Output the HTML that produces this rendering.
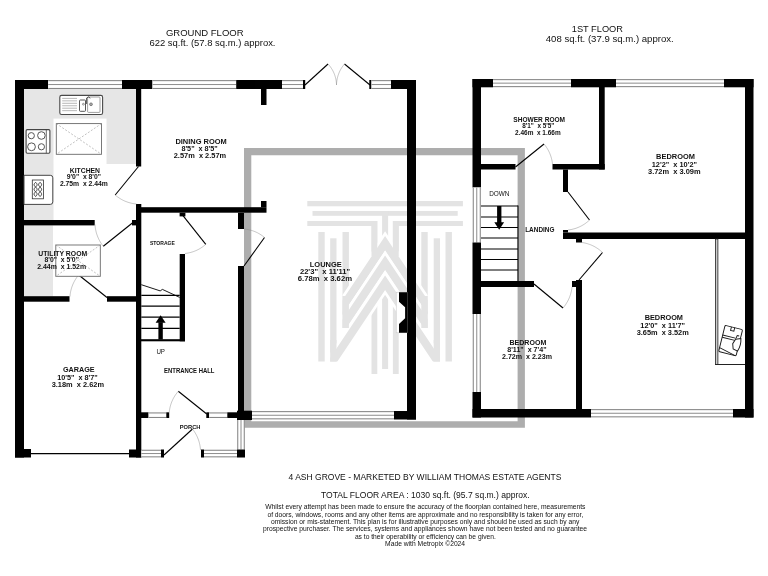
<!DOCTYPE html>
<html><head><meta charset="utf-8"><title>Floorplan</title>
<style>
html,body{margin:0;padding:0;background:#fff;}
body{width:768px;height:576px;overflow:hidden;}
svg{display:block;font-family:"Liberation Sans",sans-serif;opacity:0.999;will-change:transform;}
</style></head><body>
<svg width="768" height="576" viewBox="0 0 768 576">
<rect width="768" height="576" fill="#fff"/>
<path d="M244 148H524.9V427.8H244Z M251.3 155.2V421.2H517.6V155.2Z" fill="#adadad" fill-rule="evenodd"/>
<g id="logo">
<clipPath id="cC"><rect x="342.5" y="190" width="85.20" height="138"/></clipPath>
<clipPath id="cB"><rect x="330.2" y="190" width="109.80" height="171.5"/></clipPath>
<rect x="307.30" y="201.00" width="155.60" height="5.30" fill="#e3e3e3" />
<rect x="312.50" y="211.00" width="145.20" height="4.80" fill="#e3e3e3" />
<rect x="307.30" y="221.00" width="69.10" height="5.00" fill="#e3e3e3" />
<rect x="393.80" y="221.00" width="69.10" height="5.00" fill="#e3e3e3" />
<rect x="318.30" y="232.00" width="6.40" height="129.50" fill="#e3e3e3" />
<rect x="445.50" y="232.00" width="6.40" height="129.50" fill="#e3e3e3" />
<rect x="330.20" y="238.30" width="6.30" height="123.20" fill="#e3e3e3" />
<rect x="433.70" y="238.30" width="6.30" height="123.20" fill="#e3e3e3" />
<rect x="342.50" y="232.00" width="6.40" height="96.00" fill="#e3e3e3" />
<rect x="421.30" y="232.00" width="6.40" height="96.00" fill="#e3e3e3" />
<rect x="371.50" y="221.00" width="5.80" height="153.00" fill="#e3e3e3" />
<rect x="392.90" y="221.00" width="5.80" height="153.00" fill="#e3e3e3" />
<rect x="382.10" y="211.00" width="6.00" height="158.00" fill="#e3e3e3" />
<polyline clip-path="url(#cC)" points="340.50,310.20 385.10,243.30 429.70,310.20" fill="none" stroke="#fff" stroke-width="13.4" stroke-linejoin="miter" stroke-miterlimit="10"/>
<rect x="371.50" y="221.00" width="5.80" height="35.00" fill="#e3e3e3" />
<rect x="392.90" y="221.00" width="5.80" height="35.00" fill="#e3e3e3" />
<polyline clip-path="url(#cC)" points="337.70,314.40 385.10,243.30 432.50,314.40" fill="none" stroke="#e3e3e3" stroke-width="8.0" stroke-linejoin="miter" stroke-miterlimit="10"/>
<polyline clip-path="url(#cC)" points="340.50,329.60 385.10,262.70 429.70,329.60" fill="none" stroke="#fff" stroke-width="13.4" stroke-linejoin="miter" stroke-miterlimit="10"/>
<polyline clip-path="url(#cC)" points="337.70,333.80 385.10,262.70 432.50,333.80" fill="none" stroke="#e3e3e3" stroke-width="8.0" stroke-linejoin="miter" stroke-miterlimit="10"/>
<polyline clip-path="url(#cB)" points="328.00,368.35 385.10,282.70 442.20,368.35" fill="none" stroke="#fff" stroke-width="13.4" stroke-linejoin="miter" stroke-miterlimit="10"/>
<polyline clip-path="url(#cB)" points="325.40,372.25 385.10,282.70 444.80,372.25" fill="none" stroke="#e3e3e3" stroke-width="8.0" stroke-linejoin="miter" stroke-miterlimit="10"/>
<rect x="342.50" y="296.00" width="6.40" height="32.00" fill="#e3e3e3" />
<rect x="421.30" y="296.00" width="6.40" height="32.00" fill="#e3e3e3" />
<rect x="330.20" y="340.00" width="6.30" height="21.50" fill="#e3e3e3" />
<rect x="433.70" y="340.00" width="6.30" height="21.50" fill="#e3e3e3" />
</g>
<rect x="24.00" y="89.00" width="112.00" height="75.00" fill="#e6e6e6" />
<rect x="24.00" y="164.00" width="29.50" height="56.00" fill="#e6e6e6" />
<rect x="53.50" y="118.60" width="53.00" height="45.40" fill="#fff" />
<rect x="24.00" y="225.40" width="29.00" height="70.80" fill="#e6e6e6" />
<rect x="15.00" y="80.00" width="9.00" height="377.50" fill="#000" />
<rect x="15.00" y="80.00" width="33.20" height="9.00" fill="#000" />
<rect x="48.20" y="80.20" width="73.80" height="8.70" fill="#fff" />
<line x1="48.20" y1="80.65" x2="122.00" y2="80.65" stroke="#707070" stroke-width="0.9" />
<line x1="48.20" y1="88.45" x2="122.00" y2="88.45" stroke="#707070" stroke-width="0.9" />
<line x1="48.20" y1="84.55" x2="122.00" y2="84.55" stroke="#8c8c8c" stroke-width="1.0" />
<rect x="122.00" y="80.00" width="30.50" height="9.00" fill="#000" />
<rect x="152.50" y="80.20" width="83.70" height="8.70" fill="#fff" />
<line x1="152.50" y1="80.65" x2="236.20" y2="80.65" stroke="#707070" stroke-width="0.9" />
<line x1="152.50" y1="88.45" x2="236.20" y2="88.45" stroke="#707070" stroke-width="0.9" />
<line x1="152.50" y1="84.55" x2="236.20" y2="84.55" stroke="#8c8c8c" stroke-width="1.0" />
<rect x="236.20" y="80.00" width="45.80" height="9.00" fill="#000" />
<rect x="282.00" y="80.20" width="21.00" height="8.70" fill="#fff" />
<line x1="282.00" y1="80.65" x2="303.00" y2="80.65" stroke="#707070" stroke-width="0.9" />
<line x1="282.00" y1="88.45" x2="303.00" y2="88.45" stroke="#707070" stroke-width="0.9" />
<line x1="282.00" y1="84.55" x2="303.00" y2="84.55" stroke="#8c8c8c" stroke-width="1.0" />
<rect x="303.00" y="80.00" width="2.20" height="9.00" fill="#000" />
<rect x="369.30" y="80.00" width="2.20" height="9.00" fill="#000" />
<rect x="371.50" y="80.20" width="19.50" height="8.70" fill="#fff" />
<line x1="371.50" y1="80.65" x2="391.00" y2="80.65" stroke="#707070" stroke-width="0.9" />
<line x1="371.50" y1="88.45" x2="391.00" y2="88.45" stroke="#707070" stroke-width="0.9" />
<line x1="371.50" y1="84.55" x2="391.00" y2="84.55" stroke="#8c8c8c" stroke-width="1.0" />
<rect x="391.00" y="80.00" width="25.00" height="9.00" fill="#000" />
<rect x="407.00" y="80.00" width="9.00" height="339.50" fill="#000" />
<rect x="252.00" y="411.20" width="142.00" height="8.10" fill="#fff" />
<line x1="252.00" y1="411.65" x2="394.00" y2="411.65" stroke="#707070" stroke-width="0.9" />
<line x1="252.00" y1="418.85" x2="394.00" y2="418.85" stroke="#707070" stroke-width="0.9" />
<line x1="252.00" y1="415.25" x2="394.00" y2="415.25" stroke="#8c8c8c" stroke-width="1.0" />
<rect x="394.00" y="411.00" width="22.00" height="8.50" fill="#000" />
<rect x="136.00" y="89.00" width="5.20" height="77.50" fill="#000" />
<rect x="261.00" y="89.00" width="5.50" height="16.00" fill="#000" />
<rect x="24.00" y="220.00" width="70.70" height="5.40" fill="#000" />
<rect x="24.00" y="296.20" width="45.50" height="5.50" fill="#000" />
<rect x="107.00" y="296.20" width="29.00" height="5.50" fill="#000" />
<rect x="136.00" y="204.00" width="5.30" height="253.50" fill="#000" />
<rect x="132.00" y="220.00" width="4.00" height="5.40" fill="#000" />
<rect x="141.00" y="207.20" width="125.50" height="5.50" fill="#000" />
<rect x="261.00" y="201.00" width="5.50" height="6.20" fill="#000" />
<rect x="238.00" y="212.70" width="6.00" height="16.30" fill="#000" />
<rect x="238.00" y="266.00" width="6.00" height="154.00" fill="#000" />
<rect x="179.60" y="212.70" width="5.80" height="3.70" fill="#000" />
<rect x="179.70" y="254.00" width="5.30" height="87.30" fill="#000" />
<rect x="141.00" y="339.20" width="44.00" height="2.10" fill="#000" />
<rect x="141.00" y="412.30" width="7.60" height="5.70" fill="#000" />
<rect x="148.60" y="412.50" width="17.70" height="5.40" fill="#fff" />
<line x1="148.60" y1="412.95" x2="166.30" y2="412.95" stroke="#707070" stroke-width="0.9" />
<line x1="148.60" y1="417.45" x2="166.30" y2="417.45" stroke="#707070" stroke-width="0.9" />
<rect x="166.30" y="412.30" width="2.90" height="5.70" fill="#000" />
<rect x="206.30" y="412.30" width="2.90" height="5.70" fill="#000" />
<rect x="209.20" y="412.50" width="18.10" height="5.40" fill="#fff" />
<line x1="209.20" y1="412.95" x2="227.30" y2="412.95" stroke="#707070" stroke-width="0.9" />
<line x1="209.20" y1="417.45" x2="227.30" y2="417.45" stroke="#707070" stroke-width="0.9" />
<rect x="227.30" y="412.30" width="10.70" height="5.70" fill="#000" />
<rect x="237.00" y="410.70" width="15.00" height="9.30" fill="#000" />
<rect x="237.30" y="420.00" width="7.40" height="29.50" fill="#fff" />
<line x1="237.75" y1="420.00" x2="237.75" y2="449.50" stroke="#707070" stroke-width="0.9" />
<line x1="244.25" y1="420.00" x2="244.25" y2="449.50" stroke="#707070" stroke-width="0.9" />
<line x1="241.00" y1="420.00" x2="241.00" y2="449.50" stroke="#8c8c8c" stroke-width="1.0" />
<rect x="129.00" y="449.50" width="12.30" height="8.00" fill="#000" />
<rect x="141.30" y="449.80" width="19.70" height="7.50" fill="#fff" />
<line x1="141.30" y1="450.25" x2="161.00" y2="450.25" stroke="#707070" stroke-width="0.9" />
<line x1="141.30" y1="456.85" x2="161.00" y2="456.85" stroke="#707070" stroke-width="0.9" />
<line x1="141.30" y1="453.55" x2="161.00" y2="453.55" stroke="#8c8c8c" stroke-width="1.0" />
<rect x="161.00" y="449.50" width="3.00" height="8.00" fill="#000" />
<rect x="201.00" y="449.50" width="3.00" height="8.00" fill="#000" />
<rect x="204.00" y="449.80" width="33.00" height="7.50" fill="#fff" />
<line x1="204.00" y1="450.25" x2="237.00" y2="450.25" stroke="#707070" stroke-width="0.9" />
<line x1="204.00" y1="456.85" x2="237.00" y2="456.85" stroke="#707070" stroke-width="0.9" />
<line x1="204.00" y1="453.55" x2="237.00" y2="453.55" stroke="#8c8c8c" stroke-width="1.0" />
<rect x="237.00" y="449.50" width="8.00" height="8.00" fill="#000" />
<rect x="15.00" y="449.00" width="16.00" height="8.50" fill="#000" />
<line x1="31.00" y1="453.70" x2="129.00" y2="453.70" stroke="#000" stroke-width="1.2" />
<rect x="396.2" y="292.2" width="10.8" height="40.6" fill="#fff" stroke="#c4c4c4" stroke-width="0.5"/>
<polygon points="407,292.2 399,292.2 399,301.7 405.1,307.2 405.1,318.3 399,323.9 399,332.8 407,332.8" fill="#000"/>
<line x1="141.30" y1="295.30" x2="179.70" y2="295.30" stroke="#000" stroke-width="1.2" />
<line x1="141.30" y1="306.20" x2="179.70" y2="306.20" stroke="#000" stroke-width="1.2" />
<line x1="141.30" y1="317.20" x2="179.70" y2="317.20" stroke="#000" stroke-width="1.2" />
<line x1="141.30" y1="328.30" x2="179.70" y2="328.30" stroke="#000" stroke-width="1.2" />
<polyline points="141.3,284.7 160.2,290.9 162.4,289.4 179.7,297.4" fill="none" stroke="#000" stroke-width="0.9"/>
<rect x="158.40" y="322.30" width="4.40" height="17.20" fill="#000" />
<polygon points="160.6,315.2 155.6,322.8 165.6,322.8" fill="#000"/>
<line x1="138.50" y1="166.50" x2="115.20" y2="195.00" stroke="#000" stroke-width="1.1" />
<polyline points="115.20,195.00 115.94,195.63 116.70,196.24 117.48,196.83 118.27,197.40 119.08,197.95 119.90,198.48 120.74,198.99 121.59,199.48 122.46,199.94 123.33,200.38 124.22,200.80 125.12,201.19 126.04,201.56 126.96,201.91 127.89,202.23 128.83,202.53 129.78,202.80 130.74,203.05 131.70,203.27 132.67,203.47 133.65,203.64 134.63,203.79 135.61,203.91 136.60,204.00" fill="none" stroke="#8a8a8a" stroke-width="0.5"/>
<line x1="133.00" y1="222.50" x2="103.30" y2="246.30" stroke="#000" stroke-width="1.1" />
<polyline points="103.30,246.30 102.69,245.52 102.11,244.73 101.54,243.92 100.99,243.09 100.47,242.26 99.97,241.40 99.49,240.54 99.03,239.66 98.60,238.78 98.19,237.88 97.80,236.97 97.44,236.05 97.10,235.12 96.78,234.19 96.49,233.24 96.23,232.29 95.99,231.33 95.77,230.37 95.58,229.40 95.41,228.43 95.27,227.45 95.15,226.47 95.06,225.49 95.00,224.50" fill="none" stroke="#8a8a8a" stroke-width="0.5"/>
<line x1="107.00" y1="297.50" x2="78.70" y2="275.00" stroke="#000" stroke-width="1.1" />
<polyline points="78.70,275.00 78.08,275.75 77.47,276.51 76.89,277.29 76.33,278.09 75.79,278.90 75.27,279.73 74.77,280.57 74.30,281.43 73.84,282.30 73.41,283.18 73.01,284.07 72.63,284.98 72.27,285.89 71.93,286.82 71.63,287.76 71.34,288.70 71.08,289.65 70.85,290.62 70.64,291.58 70.46,292.56 70.31,293.54 70.18,294.52 70.08,295.51 70.00,296.50" fill="none" stroke="#8a8a8a" stroke-width="0.5"/>
<line x1="183.00" y1="215.70" x2="205.80" y2="244.30" stroke="#000" stroke-width="1.1" />
<polyline points="205.80,244.30 205.09,244.92 204.35,245.53 203.61,246.11 202.84,246.68 202.06,247.23 201.27,247.76 200.46,248.26 199.64,248.75 198.80,249.22 197.95,249.66 197.09,250.09 196.21,250.49 195.33,250.87 194.43,251.23 193.52,251.56 192.61,251.87 191.68,252.16 190.75,252.43 189.81,252.67 188.86,252.88 187.90,253.07 186.94,253.24 185.97,253.38 185.00,253.50" fill="none" stroke="#8a8a8a" stroke-width="0.5"/>
<line x1="244.00" y1="266.00" x2="264.50" y2="237.50" stroke="#000" stroke-width="1.1" />
<polyline points="264.50,237.50 263.80,236.91 263.08,236.34 262.34,235.79 261.59,235.25 260.82,234.74 260.04,234.24 259.24,233.76 258.43,233.31 257.61,232.87 256.77,232.45 255.92,232.06 255.06,231.68 254.19,231.33 253.30,231.00 252.41,230.70 251.51,230.41 250.59,230.15 249.67,229.92 248.74,229.70 247.81,229.51 246.86,229.35 245.91,229.21 244.96,229.09 244.00,229.00" fill="none" stroke="#8a8a8a" stroke-width="0.5"/>
<line x1="206.70" y1="414.00" x2="178.30" y2="391.30" stroke="#000" stroke-width="1.1" />
<polyline points="178.30,391.30 177.67,392.03 177.06,392.78 176.47,393.54 175.90,394.32 175.35,395.11 174.82,395.93 174.31,396.75 173.82,397.59 173.35,398.45 172.91,399.31 172.49,400.19 172.09,401.08 171.71,401.99 171.36,402.90 171.03,403.83 170.73,404.76 170.45,405.70 170.19,406.65 169.97,407.61 169.76,408.58 169.58,409.55 169.43,410.53 169.30,411.51 169.20,412.50" fill="none" stroke="#8a8a8a" stroke-width="0.5"/>
<line x1="164.00" y1="455.00" x2="192.50" y2="429.00" stroke="#000" stroke-width="1.1" />
<polyline points="192.50,429.00 193.09,429.77 193.66,430.56 194.21,431.36 194.73,432.17 195.24,432.99 195.72,433.82 196.18,434.66 196.62,435.51 197.04,436.38 197.43,437.25 197.80,438.13 198.15,439.01 198.48,439.90 198.78,440.80 199.06,441.71 199.31,442.62 199.54,443.53 199.75,444.45 199.93,445.37 200.09,446.29 200.23,447.22 200.34,448.14 200.43,449.07 200.50,450.00" fill="none" stroke="#8a8a8a" stroke-width="0.5"/>
<line x1="305.00" y1="85.00" x2="328.00" y2="64.00" stroke="#000" stroke-width="1.1" />
<polyline points="328.00,64.00 328.65,64.71 329.27,65.44 329.88,66.19 330.46,66.95 331.01,67.74 331.55,68.54 332.05,69.36 332.54,70.20 332.99,71.04 333.42,71.91 333.83,72.78 334.20,73.67 334.55,74.57 334.87,75.49 335.17,76.41 335.43,77.34 335.67,78.28 335.88,79.22 336.05,80.17 336.20,81.13 336.32,82.09 336.41,83.06 336.47,84.03 336.50,85.00" fill="none" stroke="#8a8a8a" stroke-width="0.5"/>
<line x1="370.00" y1="85.00" x2="344.50" y2="64.00" stroke="#000" stroke-width="1.1" />
<polyline points="344.50,64.00 343.89,64.73 343.31,65.47 342.74,66.24 342.20,67.02 341.68,67.81 341.18,68.62 340.70,69.45 340.25,70.29 339.82,71.14 339.42,72.00 339.04,72.88 338.69,73.77 338.36,74.66 338.06,75.57 337.78,76.49 337.53,77.41 337.31,78.34 337.11,79.28 336.94,80.22 336.80,81.17 336.68,82.12 336.59,83.08 336.53,84.04 336.50,85.00" fill="none" stroke="#8a8a8a" stroke-width="0.5"/>
<rect x="472.50" y="79.00" width="8.50" height="108.50" fill="#000" />
<rect x="472.80" y="187.50" width="7.90" height="55.00" fill="#fff" />
<line x1="473.25" y1="187.50" x2="473.25" y2="242.50" stroke="#707070" stroke-width="0.9" />
<line x1="480.25" y1="187.50" x2="480.25" y2="242.50" stroke="#707070" stroke-width="0.9" />
<line x1="476.75" y1="187.50" x2="476.75" y2="242.50" stroke="#8c8c8c" stroke-width="1.0" />
<rect x="472.50" y="242.50" width="8.50" height="71.50" fill="#000" />
<rect x="472.80" y="314.00" width="7.90" height="78.00" fill="#fff" />
<line x1="473.25" y1="314.00" x2="473.25" y2="392.00" stroke="#707070" stroke-width="0.9" />
<line x1="480.25" y1="314.00" x2="480.25" y2="392.00" stroke="#707070" stroke-width="0.9" />
<line x1="476.75" y1="314.00" x2="476.75" y2="392.00" stroke="#8c8c8c" stroke-width="1.0" />
<rect x="472.50" y="392.00" width="8.50" height="25.50" fill="#000" />
<rect x="472.50" y="79.00" width="20.50" height="8.30" fill="#000" />
<rect x="493.00" y="79.20" width="78.00" height="7.90" fill="#fff" />
<line x1="493.00" y1="79.65" x2="571.00" y2="79.65" stroke="#707070" stroke-width="0.9" />
<line x1="493.00" y1="86.65" x2="571.00" y2="86.65" stroke="#707070" stroke-width="0.9" />
<line x1="493.00" y1="83.15" x2="571.00" y2="83.15" stroke="#8c8c8c" stroke-width="1.0" />
<rect x="571.00" y="79.00" width="45.00" height="8.30" fill="#000" />
<rect x="616.00" y="79.20" width="108.00" height="7.90" fill="#fff" />
<line x1="616.00" y1="79.65" x2="724.00" y2="79.65" stroke="#707070" stroke-width="0.9" />
<line x1="616.00" y1="86.65" x2="724.00" y2="86.65" stroke="#707070" stroke-width="0.9" />
<line x1="616.00" y1="83.15" x2="724.00" y2="83.15" stroke="#8c8c8c" stroke-width="1.0" />
<rect x="724.00" y="79.00" width="29.50" height="8.30" fill="#000" />
<rect x="745.00" y="79.00" width="8.50" height="338.50" fill="#000" />
<rect x="472.50" y="409.00" width="118.50" height="8.50" fill="#000" />
<rect x="591.00" y="409.20" width="142.00" height="8.10" fill="#fff" />
<line x1="591.00" y1="409.65" x2="733.00" y2="409.65" stroke="#707070" stroke-width="0.9" />
<line x1="591.00" y1="416.85" x2="733.00" y2="416.85" stroke="#707070" stroke-width="0.9" />
<line x1="591.00" y1="413.25" x2="733.00" y2="413.25" stroke="#8c8c8c" stroke-width="1.0" />
<rect x="733.00" y="409.00" width="20.50" height="8.50" fill="#000" />
<rect x="599.00" y="87.00" width="5.70" height="82.50" fill="#000" />
<rect x="481.00" y="164.00" width="34.50" height="5.50" fill="#000" />
<rect x="552.50" y="164.00" width="52.20" height="5.50" fill="#000" />
<rect x="563.00" y="169.50" width="5.00" height="22.50" fill="#000" />
<rect x="563.00" y="232.50" width="182.00" height="6.50" fill="#000" />
<rect x="563.00" y="230.00" width="5.00" height="2.50" fill="#000" />
<rect x="576.00" y="239.00" width="6.00" height="3.50" fill="#000" />
<rect x="576.00" y="280.00" width="6.00" height="129.00" fill="#000" />
<rect x="572.00" y="281.00" width="4.00" height="6.00" fill="#000" />
<rect x="481.00" y="281.00" width="53.00" height="6.00" fill="#000" />
<line x1="481.00" y1="206.00" x2="518.00" y2="206.00" stroke="#000" stroke-width="1.2" />
<line x1="481.00" y1="217.00" x2="518.00" y2="217.00" stroke="#000" stroke-width="1.2" />
<line x1="481.00" y1="227.50" x2="518.00" y2="227.50" stroke="#000" stroke-width="1.2" />
<line x1="481.00" y1="238.00" x2="518.00" y2="238.00" stroke="#000" stroke-width="1.2" />
<line x1="481.00" y1="249.00" x2="518.00" y2="249.00" stroke="#000" stroke-width="1.2" />
<line x1="481.00" y1="259.50" x2="518.00" y2="259.50" stroke="#000" stroke-width="1.2" />
<line x1="481.00" y1="270.00" x2="518.00" y2="270.00" stroke="#000" stroke-width="1.2" />
<line x1="518.00" y1="205.40" x2="518.00" y2="281.00" stroke="#000" stroke-width="1.1" />
<rect x="497.10" y="206.00" width="4.30" height="17.00" fill="#000" />
<polygon points="499.2,229.8 494.3,222.3 504.1,222.3" fill="#000"/>
<rect x="715.4" y="239" width="2.5" height="125.4" fill="#ccc" stroke="#222" stroke-width="0.8"/>
<line x1="715.00" y1="364.50" x2="745.00" y2="364.50" stroke="#222" stroke-width="1.0" />
<g transform="translate(730.6,340.6) rotate(14)" fill="#fff" stroke="#1a1a1a" stroke-width="0.95"><rect x="-9" y="-13.5" width="18" height="27" rx="1.2"/><line x1="-9" y1="-3.5" x2="5" y2="-3.5"/><line x1="-9" y1="-1.2" x2="4" y2="-1.2"/><path d="M-2.5 -13.5v3.6h3.4v-3.6" fill="none"/><path d="M5 -6.5h2.2M5 -6.5v2.5" fill="none"/><path d="M4.5 -2.5 L9.5 -4.5 Q11.5 2 9.3 8.5 L4.5 7.5 L2.8 2.5z"/><line x1="-9" y1="9.5" x2="8" y2="13.5"/></g>
<line x1="515.50" y1="167.00" x2="544.00" y2="144.00" stroke="#000" stroke-width="1.1" />
<polyline points="544.00,144.00 544.58,144.70 545.14,145.42 545.69,146.16 546.22,146.90 546.73,147.67 547.22,148.44 547.69,149.23 548.14,150.02 548.57,150.83 548.98,151.65 549.37,152.48 549.74,153.32 550.09,154.18 550.42,155.03 550.73,155.90 551.01,156.78 551.28,157.66 551.52,158.55 551.74,159.45 551.94,160.35 552.11,161.25 552.26,162.17 552.39,163.08 552.50,164.00" fill="none" stroke="#8a8a8a" stroke-width="0.5"/>
<line x1="568.00" y1="192.00" x2="589.50" y2="220.00" stroke="#000" stroke-width="1.1" />
<polyline points="589.50,220.00 588.79,220.67 588.07,221.32 587.32,221.95 586.56,222.56 585.77,223.15 584.97,223.72 584.15,224.28 583.31,224.81 582.45,225.31 581.58,225.80 580.69,226.26 579.79,226.70 578.87,227.12 577.94,227.51 576.99,227.88 576.03,228.22 575.06,228.54 574.08,228.83 573.09,229.09 572.09,229.33 571.08,229.54 570.06,229.72 569.03,229.87 568.00,230.00" fill="none" stroke="#8a8a8a" stroke-width="0.5"/>
<line x1="579.00" y1="280.00" x2="602.50" y2="252.50" stroke="#000" stroke-width="1.1" />
<polyline points="602.50,252.50 601.81,251.85 601.10,251.21 600.38,250.60 599.64,250.00 598.88,249.42 598.11,248.86 597.32,248.32 596.51,247.80 595.69,247.30 594.86,246.82 594.01,246.36 593.15,245.92 592.27,245.51 591.39,245.12 590.49,244.75 589.58,244.40 588.66,244.08 587.74,243.78 586.80,243.51 585.85,243.25 584.90,243.03 583.94,242.83 582.97,242.65 582.00,242.50" fill="none" stroke="#8a8a8a" stroke-width="0.5"/>
<line x1="534.00" y1="284.00" x2="563.00" y2="308.00" stroke="#000" stroke-width="1.1" />
<polyline points="563.00,308.00 563.62,307.26 564.22,306.51 564.80,305.75 565.36,304.96 565.90,304.17 566.42,303.36 566.92,302.53 567.40,301.70 567.86,300.85 568.30,299.98 568.71,299.11 569.11,298.23 569.48,297.33 569.82,296.43 570.15,295.52 570.45,294.60 570.73,293.67 570.98,292.73 571.21,291.79 571.42,290.84 571.60,289.89 571.76,288.93 571.89,287.97 572.00,287.00" fill="none" stroke="#8a8a8a" stroke-width="0.5"/>
<g fill="#fff" stroke="#4a4a4a" stroke-width="1.1"><rect x="59.8" y="95.4" width="42.8" height="19.1" rx="1.8"/></g>
<g fill="#fff" stroke="#777" stroke-width="0.7"><rect x="87.6" y="97" width="12.4" height="15.4" rx="0.8"/><rect x="79.5" y="100" width="6" height="11.3" rx="0.8" stroke="#444" stroke-width="0.9"/><circle cx="91" cy="104.3" r="1.4" fill="#aaa" stroke="#666"/><circle cx="83.4" cy="104.2" r="0.9" stroke="#666"/><path d="M86.6 104 V98 L88.4 96.9 L90.3 98.2" fill="none" stroke="#444" stroke-width="0.9"/></g>
<line x1="62.20" y1="98.40" x2="77.00" y2="98.40" stroke="#999" stroke-width="0.7" />
<line x1="62.20" y1="100.85" x2="77.00" y2="100.85" stroke="#999" stroke-width="0.7" />
<line x1="62.20" y1="103.30" x2="77.00" y2="103.30" stroke="#999" stroke-width="0.7" />
<line x1="62.20" y1="105.75" x2="77.00" y2="105.75" stroke="#999" stroke-width="0.7" />
<line x1="62.20" y1="108.20" x2="77.00" y2="108.20" stroke="#999" stroke-width="0.7" />
<line x1="62.20" y1="110.65" x2="77.00" y2="110.65" stroke="#999" stroke-width="0.7" />
<g fill="#fff" stroke="#6a6a6a" stroke-width="0.9"><rect x="56.3" y="123.6" width="45.2" height="30.7"/><path d="M56.3 123.6L101.5 154.3M101.5 123.6L56.3 154.3" stroke-dasharray="2 1.6" stroke="#999" stroke-width="0.6"/></g>
<g fill="#fff" stroke="#444" stroke-width="1.1"><rect x="26.1" y="129.6" width="23.8" height="23.6" rx="1.2"/><line x1="46.3" y1="129.6" x2="46.3" y2="153.2" stroke-width="0.8"/><g stroke="#555" stroke-width="1.0"><circle cx="31.3" cy="135.7" r="3.1"/><circle cx="41.4" cy="135.5" r="3.8"/><circle cx="31.5" cy="146.8" r="3.9"/><circle cx="41.4" cy="146.8" r="3.1"/></g></g>
<g fill="#fff" stroke="#444" stroke-width="1.0"><path d="M24 175.3H50.3Q52.8 175.3 52.8 177.8V201.9Q52.8 204.4 50.3 204.4H24Z"/><rect x="32.3" y="180" width="11.1" height="18.8" stroke="#333" stroke-width="0.8"/><path d="M35.60,182.30 L36.06,182.77 L36.48,183.25 L36.81,183.72 L37.03,184.19 L37.10,184.67 L37.03,185.14 L36.81,185.61 L36.48,186.09 L36.06,186.56 L35.60,187.03 L35.14,187.51 L34.72,187.98 L34.39,188.45 L34.17,188.93 L34.10,189.40 L34.17,189.87 L34.39,190.35 L34.72,190.82 L35.14,191.29 L35.60,191.77 L36.06,192.24 L36.48,192.71 L36.81,193.19 L37.03,193.66 L37.10,194.13 L37.03,194.61 L36.81,195.08 L36.48,195.55 L36.06,196.03 L35.60,196.50 M35.60,182.30 L35.14,182.77 L34.72,183.25 L34.39,183.72 L34.17,184.19 L34.10,184.67 L34.17,185.14 L34.39,185.61 L34.72,186.09 L35.14,186.56 L35.60,187.03 L36.06,187.51 L36.48,187.98 L36.81,188.45 L37.03,188.93 L37.10,189.40 L37.03,189.87 L36.81,190.35 L36.48,190.82 L36.06,191.29 L35.60,191.77 L35.14,192.24 L34.72,192.71 L34.39,193.19 L34.17,193.66 L34.10,194.13 L34.17,194.61 L34.39,195.08 L34.72,195.55 L35.14,196.03 L35.60,196.50 M40.10,182.30 L40.56,182.77 L40.98,183.25 L41.31,183.72 L41.53,184.19 L41.60,184.67 L41.53,185.14 L41.31,185.61 L40.98,186.09 L40.56,186.56 L40.10,187.03 L39.64,187.51 L39.22,187.98 L38.89,188.45 L38.67,188.93 L38.60,189.40 L38.67,189.87 L38.89,190.35 L39.22,190.82 L39.64,191.29 L40.10,191.77 L40.56,192.24 L40.98,192.71 L41.31,193.19 L41.53,193.66 L41.60,194.13 L41.53,194.61 L41.31,195.08 L40.98,195.55 L40.56,196.03 L40.10,196.50 M40.10,182.30 L39.64,182.77 L39.22,183.25 L38.89,183.72 L38.67,184.19 L38.60,184.67 L38.67,185.14 L38.89,185.61 L39.22,186.09 L39.64,186.56 L40.10,187.03 L40.56,187.51 L40.98,187.98 L41.31,188.45 L41.53,188.93 L41.60,189.40 L41.53,189.87 L41.31,190.35 L40.98,190.82 L40.56,191.29 L40.10,191.77 L39.64,192.24 L39.22,192.71 L38.89,193.19 L38.67,193.66 L38.60,194.13 L38.67,194.61 L38.89,195.08 L39.22,195.55 L39.64,196.03 L40.10,196.50" fill="none" stroke="#1a1a1a" stroke-width="0.85"/></g>
<g fill="#fff" stroke="#6a6a6a" stroke-width="0.9"><rect x="55.8" y="245" width="44.5" height="31.3"/><path d="M55.8 245L100.3 276.3M100.3 245L55.8 276.3" stroke-dasharray="2 1.6" stroke="#999" stroke-width="0.6"/></g>
<text x="165.90" y="36.45" font-size="9.5" font-weight="normal" fill="#111" textLength="77.70" lengthAdjust="spacingAndGlyphs">GROUND FLOOR</text>
<text x="149.40" y="45.60" font-size="9.5" font-weight="normal" fill="#111" textLength="126.10" lengthAdjust="spacingAndGlyphs">622 sq.ft. (57.8 sq.m.) approx.</text>
<text x="571.75" y="32.20" font-size="9.5" font-weight="normal" fill="#111" textLength="51.25" lengthAdjust="spacingAndGlyphs">1ST FLOOR</text>
<text x="545.75" y="41.50" font-size="9.5" font-weight="normal" fill="#111" textLength="128.00" lengthAdjust="spacingAndGlyphs">408 sq.ft. (37.9 sq.m.) approx.</text>
<text x="69.80" y="172.50" font-size="6.8" font-weight="bold" fill="#111" textLength="30.20" lengthAdjust="spacingAndGlyphs">KITCHEN</text>
<text x="66.70" y="179.30" font-size="6.8" font-weight="bold" fill="#111" textLength="34.30" lengthAdjust="spacingAndGlyphs">9'0"&#160;&#160;x 8'0"</text>
<text x="59.90" y="186.20" font-size="6.8" font-weight="bold" fill="#111" textLength="47.90" lengthAdjust="spacingAndGlyphs">2.75m&#160;&#160;x 2.44m</text>
<text x="175.40" y="143.70" font-size="7.4" font-weight="bold" fill="#111" textLength="51.30" lengthAdjust="spacingAndGlyphs">DINING ROOM</text>
<text x="181.40" y="150.80" font-size="7.4" font-weight="bold" fill="#111" textLength="36.40" lengthAdjust="spacingAndGlyphs">8'5"&#160;&#160;x 8'5"</text>
<text x="173.75" y="158.40" font-size="7.4" font-weight="bold" fill="#111" textLength="52.35" lengthAdjust="spacingAndGlyphs">2.57m&#160;&#160;x 2.57m</text>
<text x="38.20" y="255.70" font-size="6.85" font-weight="bold" fill="#111" textLength="49.00" lengthAdjust="spacingAndGlyphs">UTILITY ROOM</text>
<text x="44.50" y="262.30" font-size="6.85" font-weight="bold" fill="#111" textLength="34.40" lengthAdjust="spacingAndGlyphs">8'0"&#160;&#160;x 5'0"</text>
<text x="37.20" y="269.00" font-size="6.85" font-weight="bold" fill="#111" textLength="48.90" lengthAdjust="spacingAndGlyphs">2.44m&#160;&#160;x 1.52m</text>
<text x="62.90" y="372.10" font-size="7.4" font-weight="bold" fill="#111" textLength="31.80" lengthAdjust="spacingAndGlyphs">GARAGE</text>
<text x="57.20" y="379.70" font-size="7.4" font-weight="bold" fill="#111" textLength="40.60" lengthAdjust="spacingAndGlyphs">10'5"&#160;&#160;x 8'7"</text>
<text x="51.70" y="387.00" font-size="7.4" font-weight="bold" fill="#111" textLength="52.30" lengthAdjust="spacingAndGlyphs">3.18m&#160;&#160;x 2.62m</text>
<text x="309.80" y="266.50" font-size="7.5" font-weight="bold" fill="#111" textLength="32.00" lengthAdjust="spacingAndGlyphs">LOUNGE</text>
<text x="299.90" y="274.15" font-size="7.5" font-weight="bold" fill="#111" textLength="50.30" lengthAdjust="spacingAndGlyphs">22'3"&#160;&#160;x 11'11"</text>
<text x="297.80" y="281.40" font-size="7.5" font-weight="bold" fill="#111" textLength="54.20" lengthAdjust="spacingAndGlyphs">6.78m&#160;&#160;x 3.62m</text>
<text x="513.30" y="121.60" font-size="6.5" font-weight="bold" fill="#111" textLength="51.80" lengthAdjust="spacingAndGlyphs">SHOWER ROOM</text>
<text x="522.30" y="128.10" font-size="6.5" font-weight="bold" fill="#111" textLength="32.00" lengthAdjust="spacingAndGlyphs">8'1"&#160;&#160;x 5'5"</text>
<text x="515.10" y="134.60" font-size="6.5" font-weight="bold" fill="#111" textLength="45.60" lengthAdjust="spacingAndGlyphs">2.46m&#160;&#160;x 1.66m</text>
<text x="656.10" y="159.15" font-size="7.4" font-weight="bold" fill="#111" textLength="38.80" lengthAdjust="spacingAndGlyphs">BEDROOM</text>
<text x="651.70" y="166.75" font-size="7.4" font-weight="bold" fill="#111" textLength="45.30" lengthAdjust="spacingAndGlyphs">12'2"&#160;&#160;x 10'2"</text>
<text x="648.00" y="174.00" font-size="7.4" font-weight="bold" fill="#111" textLength="52.60" lengthAdjust="spacingAndGlyphs">3.72m&#160;&#160;x 3.09m</text>
<text x="644.70" y="320.30" font-size="7.35" font-weight="bold" fill="#111" textLength="38.30" lengthAdjust="spacingAndGlyphs">BEDROOM</text>
<text x="640.30" y="327.80" font-size="7.35" font-weight="bold" fill="#111" textLength="44.80" lengthAdjust="spacingAndGlyphs">12'0"&#160;&#160;x 11'7"</text>
<text x="636.70" y="335.10" font-size="7.35" font-weight="bold" fill="#111" textLength="52.05" lengthAdjust="spacingAndGlyphs">3.65m&#160;&#160;x 3.52m</text>
<text x="509.50" y="345.00" font-size="7.05" font-weight="bold" fill="#111" textLength="36.75" lengthAdjust="spacingAndGlyphs">BEDROOM</text>
<text x="507.20" y="351.80" font-size="7.05" font-weight="bold" fill="#111" textLength="39.40" lengthAdjust="spacingAndGlyphs">8'11"&#160;&#160;x 7'4"</text>
<text x="502.00" y="359.00" font-size="7.05" font-weight="bold" fill="#111" textLength="50.00" lengthAdjust="spacingAndGlyphs">2.72m&#160;&#160;x 2.23m</text>
<text x="150.00" y="245.00" font-size="5.0" font-weight="bold" fill="#111" textLength="24.80" lengthAdjust="spacingAndGlyphs">STORAGE</text>
<text x="164.00" y="372.80" font-size="6.4" font-weight="bold" fill="#111" textLength="50.50" lengthAdjust="spacingAndGlyphs">ENTRANCE HALL</text>
<text x="179.75" y="429.00" font-size="5.7" font-weight="bold" fill="#111" textLength="20.75" lengthAdjust="spacingAndGlyphs">PORCH</text>
<text x="525.20" y="231.60" font-size="6.4" font-weight="bold" fill="#111" textLength="29.30" lengthAdjust="spacingAndGlyphs">LANDING</text>
<text x="156.40" y="353.80" font-size="6.4" font-weight="normal" fill="#111" textLength="8.60" lengthAdjust="spacingAndGlyphs">UP</text>
<text x="489.20" y="196.00" font-size="6.4" font-weight="normal" fill="#111" textLength="20.30" lengthAdjust="spacingAndGlyphs">DOWN</text>
<text x="288.50" y="479.70" font-size="9.2" font-weight="normal" fill="#111" textLength="272.90" lengthAdjust="spacingAndGlyphs">4 ASH GROVE - MARKETED BY WILLIAM THOMAS ESTATE AGENTS</text>
<text x="321.00" y="497.90" font-size="9.4" font-weight="normal" fill="#111" textLength="208.70" lengthAdjust="spacingAndGlyphs">TOTAL FLOOR AREA : 1030 sq.ft. (95.7 sq.m.) approx.</text>
<text x="265.20" y="509.40" font-size="7.0" font-weight="normal" fill="#111" textLength="320.30" lengthAdjust="spacingAndGlyphs">Whilst every attempt has been made to ensure the accuracy of the floorplan contained here, measurements</text>
<text x="267.40" y="516.80" font-size="7.0" font-weight="normal" fill="#111" textLength="315.90" lengthAdjust="spacingAndGlyphs">of doors, windows, rooms and any other items are approximate and no responsibility is taken for any error,</text>
<text x="270.90" y="524.10" font-size="7.0" font-weight="normal" fill="#111" textLength="308.50" lengthAdjust="spacingAndGlyphs">omission or mis-statement. This plan is for illustrative purposes only and should be used as such by any</text>
<text x="263.00" y="531.40" font-size="7.0" font-weight="normal" fill="#111" textLength="324.00" lengthAdjust="spacingAndGlyphs">prospective purchaser. The services, systems and appliances shown have not been tested and no guarantee</text>
<text x="354.90" y="538.70" font-size="7.0" font-weight="normal" fill="#111" textLength="140.90" lengthAdjust="spacingAndGlyphs">as to their operability or efficiency can be given.</text>
<text x="385.10" y="546.00" font-size="7.0" font-weight="normal" fill="#111" textLength="80.00" lengthAdjust="spacingAndGlyphs">Made with Metropix &#169;2024</text>
</svg>
</body></html>
